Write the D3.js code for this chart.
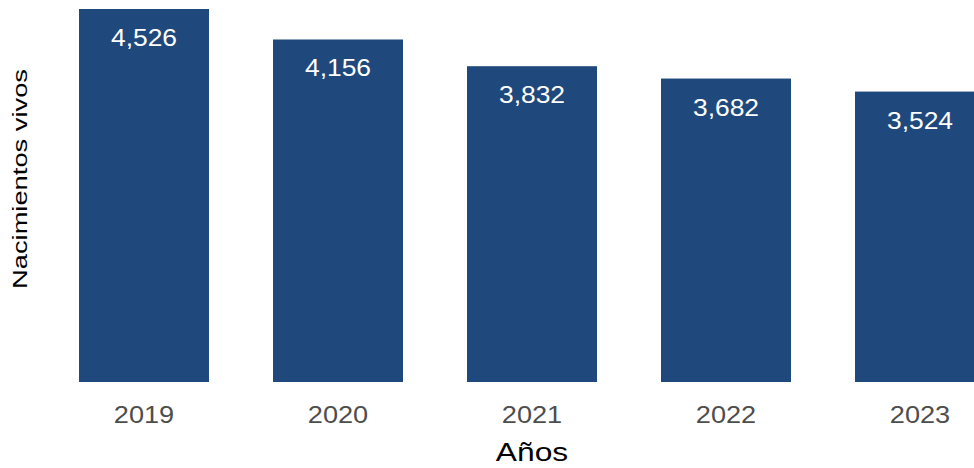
<!DOCTYPE html>
<html>
<head>
<meta charset="utf-8">
<script src="https://cdn.jsdelivr.net/npm/d3@7"></script>
<style>
  html, body { margin: 0; padding: 0; background: #fff; }
  svg text { font-family: "Liberation Sans", Arial, sans-serif; }
</style>
</head>
<body>
<div id="chart"></div>
<script>
const years = ["2019", "2020", "2021", "2022", "2023"];
const births = [4526, 4156, 3832, 3682, 3524];
const xTitle = "Años";
const yTitle = "Nacimientos vivos";

const width = 974, height = 468;
const barColor = "#1f497c";

const svg = d3.select('#chart').append('svg')
    .attr('width', width)
    .attr('height', height);

// panel runs past the right edge, last bar gets clipped like in the original
const x = d3.scaleBand()
    .domain(years)
    .range([47, 1017])
    .paddingInner(0.33)
    .paddingOuter(0.165);

const y = d3.scaleLinear()
    .domain([0, d3.max(births)])
    .range([382, 9]);

const fmt = d3.format(",");

svg.selectAll('.bar')
    .data(years)
    .enter()
    .append('rect')
    .attr('class', 'bar')
    .attr('x', d => x(d))
    .attr('y', (d, i) => y(births[i]))
    .attr('width', x.bandwidth())
    .attr('height', (d, i) => y(0) - y(births[i]))
    .attr('fill', barColor);

// value labels inside the top of each bar (text is a bit stretched wide)
svg.selectAll('.val')
    .data(years)
    .enter()
    .append('text')
    .attr('class', 'val')
    .attr('transform', (d, i) => `translate(${x(d) + x.bandwidth() / 2},${y(births[i]) + 37}) scale(1.15,1)`)
    .attr('text-anchor', 'middle')
    .attr('fill', '#fff')
    .style('font-size', '23px')
    .text((d, i) => fmt(births[i]));

// x axis: no line, no ticks, only labels
const xAxis = svg.append('g')
    .attr('transform', `translate(0,${y(0)})`)
    .call(d3.axisBottom(x).tickSize(0).tickPadding(0));
xAxis.select('.domain').remove();
xAxis.selectAll('.tick text')
    .attr('y', 0)
    .attr('dy', 0)
    .attr('transform', 'translate(0,41) scale(1.18,1)')
    .attr('fill', '#4d4d4d')
    .style('font-size', '23px');

svg.append('text')
    .attr('transform', `translate(${(x('2019') + x('2023') + x.bandwidth()) / 2},461) scale(1.27,1)`)
    .attr('text-anchor', 'middle')
    .attr('fill', '#000')
    .style('font-size', '25px')
    .text(xTitle);

svg.append('text')
    .attr('transform', `translate(27,179) rotate(-90) scale(1.4,1)`)
    .attr('text-anchor', 'middle')
    .attr('fill', '#000')
    .style('font-size', '19.5px')
    .text(yTitle);
</script>
</body>
</html>
